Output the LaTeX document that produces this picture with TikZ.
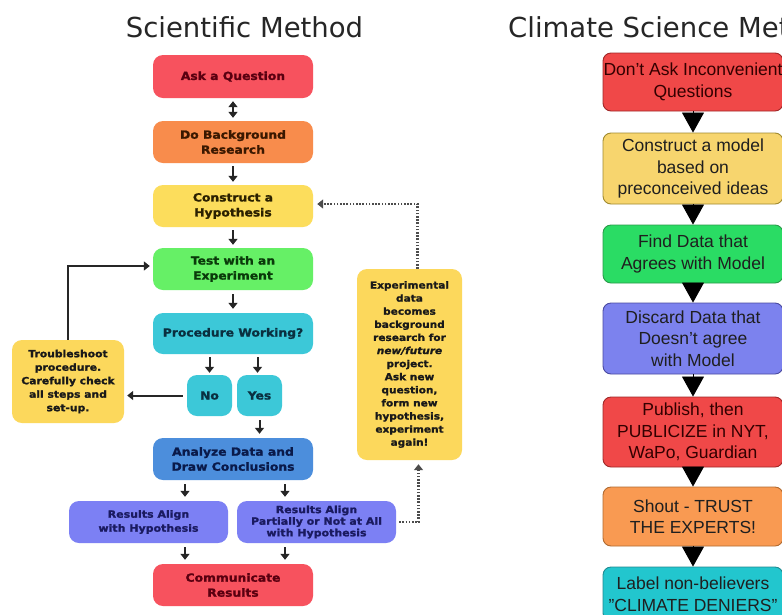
\documentclass[tikz,border=0pt]{standalone}
\usepackage{fontspec}
\setmainfont{Liberation Sans}
\newfontfamily\lbold[FakeStretch=1.1, BoldFeatures={FakeBold=1.4}, BoldItalicFeatures={FakeBold=1.4}]{DejaVu Sans}
\newfontfamily\titlefont{DejaVu Sans}
\usetikzlibrary{arrows.meta,calc}
\definecolor{cAsk}{HTML}{F7525E}
\definecolor{cBack}{HTML}{F88C4C}
\definecolor{cCon}{HTML}{FCDD5C}
\definecolor{cTest}{HTML}{66F066}
\definecolor{cProc}{HTML}{3CC8D8}
\definecolor{cAna}{HTML}{4C8EDC}
\definecolor{cRes}{HTML}{7C80F4}
\definecolor{cYel}{HTML}{FCD85C}
\definecolor{tRed}{HTML}{5A0010}
\definecolor{tBrown}{HTML}{3A1800}
\definecolor{tOlive}{HTML}{2A2000}
\definecolor{tGreen}{HTML}{0A3A0A}
\definecolor{tTeal}{HTML}{0A3040}
\definecolor{tNavy}{HTML}{0A1A4A}
\definecolor{tBlue}{HTML}{1A1A60}
\definecolor{rRed}{HTML}{F04848}
\definecolor{rRedD}{HTML}{A02828}
\definecolor{rYel}{HTML}{F7D56E}
\definecolor{rYelD}{HTML}{A08A30}
\definecolor{rGreen}{HTML}{2ADC64}
\definecolor{rGreenD}{HTML}{2A9A4A}
\definecolor{rBlue}{HTML}{7C82EE}
\definecolor{rBlueD}{HTML}{4A4AA0}
\definecolor{rOr}{HTML}{F99A52}
\definecolor{rOrD}{HTML}{B06A30}
\definecolor{rCyan}{HTML}{22C6CE}
\definecolor{rCyanD}{HTML}{208A90}
\begin{document}
\begin{tikzpicture}[x=1pt,y=-1pt,
  lbox/.style={rounded corners=10pt, inner sep=0pt, align=center,
    font=\lbold\bfseries\fontsize{11.2}{15}\selectfont},
  sbox/.style={rounded corners=10pt, inner sep=0pt, align=center,
    font=\lbold\bfseries\fontsize{9.6}{13.1}\selectfont},
  rbox/.style={draw, line width=0.9pt, rounded corners=8pt, inner sep=0pt,
    minimum width=180pt, align=center, text=black!88,
    font=\fontsize{17.5}{21.5}\selectfont},
  tip/.tip={Triangle[length=6pt,width=9pt]},
  sarr/.style={-tip, line width=2pt, black!85},
  dotarr/.style={-tip, line width=2.2pt, black!70, dash pattern=on 1.6pt off 1.6pt},
  tri/.style={-{Triangle[length=20pt,width=22pt]}, line width=0.8pt, black}]
\useasboundingbox (0,0) rectangle (782,614);
\fill[white] (0,0) rectangle (782,614);

% titles
\node[font=\titlefont\fontsize{27.5}{30}\selectfont, anchor=base, text=black!85, inner sep=0pt] (t1) at (244.5,37) {Scientific Method};
\node[font=\titlefont\fontsize{27.5}{30}\selectfont, anchor=base west, text=black!85, inner sep=0pt] (t2) at (508,37) {Climate Science Method};

% left column
\node[lbox, fill=cAsk, text=tRed, minimum width=160pt, minimum height=43pt] (ask) at (233,76.5) {Ask a Question};
\node[lbox, fill=cBack, text=tBrown, minimum width=160pt, minimum height=42pt] (back) at (233,142) {Do Background\\Research};
\node[lbox, fill=cCon, text=tOlive, minimum width=160pt, minimum height=42pt] (con) at (233,206) {Construct a\\Hypothesis};
\node[lbox, fill=cTest, text=tGreen, minimum width=160pt, minimum height=42pt] (test) at (233,269) {Test with an\\Experiment};
\node[lbox, fill=cProc, text=tTeal, minimum width=160pt, minimum height=41pt] (proc) at (233,333.5) {Procedure Working?};
\node[lbox, fill=cProc, text=tTeal, minimum width=45pt, minimum height=41pt] (no) at (209.5,395.5) {No};
\node[lbox, fill=cProc, text=tTeal, minimum width=45pt, minimum height=41pt] (yes) at (259.5,395.5) {Yes};
\node[lbox, fill=cAna, text=tNavy, minimum width=160pt, minimum height=42pt] (ana) at (233,459) {Analyze Data and\\Draw Conclusions};
\node[lbox, fill=cRes, text=tBlue, minimum width=159pt, minimum height=42pt,
  font=\lbold\bfseries\fontsize{10}{14}\selectfont] (res1) at (148.5,522) {Results Align\\with Hypothesis};
\node[lbox, fill=cRes, text=tBlue, minimum width=159pt, minimum height=42pt,
  font=\lbold\bfseries\fontsize{10}{11.6}\selectfont] (res2) at (316.5,522) {Results Align\\Partially or Not at All\\with Hypothesis};
\node[lbox, fill=cAsk, text=tRed, minimum width=160pt, minimum height=42pt] (comm) at (233,585) {Communicate\\Results};
\node[sbox, fill=cYel, text=black!90, minimum width=112pt, minimum height=83pt,
  font=\lbold\bfseries\fontsize{9.8}{13.5}\selectfont] (trouble) at (68,381.5) {Troubleshoot\\procedure.\\Carefully check\\all steps and\\set-up.};
\node[sbox, fill=cYel, text=black!90, minimum width=105pt, minimum height=191pt] (exp) at (409.5,364.5) {Experimental\\data\\becomes\\background\\research for\\\textit{new/future}\\project.\\Ask new\\question,\\form new\\hypothesis,\\experiment\\again!};

% left arrows
\draw[sarr, tip-tip, shorten <=3pt, shorten >=3pt] (ask) -- (back);
\draw[sarr, shorten <=3pt, shorten >=3pt] (back) -- (con);
\draw[sarr, shorten <=3pt, shorten >=3pt] (con) -- (test);
\draw[sarr, shorten <=4pt, shorten >=4pt] (test) -- (proc);
\draw[sarr, shorten <=3pt, shorten >=2pt] (no.north |- proc.south) -- (no.north);
\draw[sarr, shorten <=3pt, shorten >=2pt] ([xshift=-2pt]yes.north |- proc.south) -- ([xshift=-2pt]yes.north);
\draw[sarr, shorten <=4pt, shorten >=4pt] (yes.south) -- (yes.south |- ana.north);
\draw[sarr, shorten <=4pt, shorten >=4pt] ([xshift=-48pt]ana.south) -- ([xshift=-48pt]ana.south |- res1.north);
\draw[sarr, shorten <=4pt, shorten >=4pt] ([xshift=52pt]ana.south) -- ([xshift=52pt]ana.south |- res2.north);
\draw[sarr, shorten <=4pt, shorten >=4pt] ([xshift=-48pt]comm.north |- res1.south) -- ([xshift=-48pt]comm.north);
\draw[sarr, shorten <=4pt, shorten >=4pt] ([xshift=52pt]comm.north |- res2.south) -- ([xshift=52pt]comm.north);
\draw[sarr, shorten <=4pt, shorten >=3pt] (no.west) -- (no.west -| trouble.east);
\draw[sarr, shorten >=3pt] (trouble.north) |- ([yshift=3pt]test.west);
\draw[dotarr, shorten <=3pt, shorten >=4pt] (res2.east) -| ([xshift=9pt]exp.south);
\draw[dotarr, shorten >=4pt] ([xshift=8pt]exp.north) |- ([yshift=2pt]con.east);

% right column
\node[rbox, fill=rRed, draw=rRedD, text=black!80!red, minimum height=58pt] (r1) at (693,82) {Don't Ask Inconvenient\\Questions};
\node[rbox, fill=rYel, draw=rYelD, minimum height=71pt] (r2) at (693,168.5) {Construct a model\\based on\\preconceived ideas};
\node[rbox, fill=rGreen, draw=rGreenD, minimum height=58pt] (r3) at (693,254) {Find Data that\\Agrees with Model};
\node[rbox, fill=rBlue, draw=rBlueD, minimum height=71pt] (r4) at (693,338.5) {Discard Data that\\Doesn't agree\\with Model};
\node[rbox, fill=rRed, draw=rRedD, text=black!80!red, minimum height=70pt] (r5) at (693,432) {Publish, then\\PUBLICIZE in NYT,\\WaPo, Guardian};
\node[rbox, fill=rOr, draw=rOrD, minimum height=59pt] (r6) at (693,516.5) {Shout - TRUST\\THE EXPERTS!};
\node[rbox, fill=rCyan, draw=rCyanD, minimum height=54pt] (r7) at (693,594) {Label non-believers\\"CLIMATE DENIERS"};

\draw[tri] (r1.south) -- (r2.north);
\draw[tri] (r2.south) -- (r3.north);
\draw[tri] (r3.south) -- (r4.north);
\draw[tri] (r4.south) -- (r5.north);
\draw[tri] (r5.south) -- (r6.north);
\draw[tri] (r6.south) -- (r7.north);
\end{tikzpicture}
\end{document}
